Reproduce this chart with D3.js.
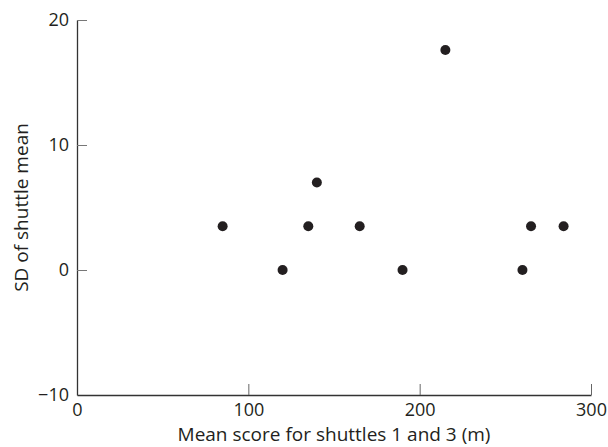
<!DOCTYPE html>
<html lang="en">
<head>
  <meta charset="UTF-8">
  <title>SD of shuttle mean</title>
  <style>
    body { margin: 0; background: #fff; }
    text { font-family: "Open Sans", sans-serif; fill: #231f20; }
  </style>
</head>
<body>
<div id="chart"></div>

<script src="https://cdn.jsdelivr.net/npm/d3@7"></script>
<script>
  // mean of shuttles 1 and 3 (m) vs SD of shuttle mean
  const MEAN_SCORE = [85, 120, 135, 140, 165, 190, 215, 260, 265, 284];
  const SD = [3.5, 0, 3.5, 7, 3.5, 0, 17.6, 0, 3.5, 3.5];
  const X_TICKS = [0, 100, 200, 300];
  const Y_TICKS = [-10, 0, 10, 20];

  const W = 608, H = 447;
  const margin = {top: 20, right: 17, bottom: 52, left: 77};
  const width = W - margin.left - margin.right,
    height = H - margin.top - margin.bottom;

  const svg = d3.select("#chart")
    .append("svg")
    .attr("width", W)
    .attr("height", H);

  const g = svg.append("g")
    .attr("transform", "translate(" + margin.left + "," + margin.top + ")");

  const x = d3.scaleLinear().domain([0, 300]).range([0, width]);
  const y = d3.scaleLinear().domain([-10, 20]).range([height, 0]);

  // x axis, ticks pointing up into the plot
  const xAxis = g.append("g")
    .attr("transform", "translate(0," + height + ")")
    .call(d3.axisBottom(x).tickValues(X_TICKS).tickSizeInner(-11).tickSizeOuter(0));
  xAxis.selectAll(".tick text").attr("y", 8).attr("dy", "0.71em").style("font-size", "18px");
  xAxis.selectAll(".tick line").attr("stroke", "#666");
  xAxis.select(".domain").attr("stroke", "#333").attr("stroke-width", 1.3);

  // y axis, ticks pointing right into the plot
  const yAxis = g.append("g")
    .call(d3.axisLeft(y).tickValues(Y_TICKS).tickSizeInner(-10).tickSizeOuter(0).tickFormat(d3.format("d")));
  yAxis.selectAll(".tick text").attr("x", -8).attr("dy", "0.3em").style("font-size", "18px");
  yAxis.selectAll(".tick line").attr("stroke", "#777");
  yAxis.select(".domain").attr("stroke", "#333").attr("stroke-width", 1.3);
  yAxis.selectAll(".tick").filter(d => d === -10).select("line").remove();

  g.selectAll(".tick text").attr("fill", "#231f20");

  // points
  g.selectAll("circle")
    .data(MEAN_SCORE)
    .enter()
    .append("circle")
    .attr("cx", d => x(d))
    .attr("cy", (d, i) => y(SD[i]))
    .attr("r", 5)
    .attr("fill", "#231f20");

  // axis titles
  svg.append("text")
    .attr("x", margin.left + width / 2)
    .attr("y", 441)
    .attr("text-anchor", "middle")
    .style("font-size", "19px")
    .text("Mean score for shuttles 1 and 3 (m)");

  svg.append("text")
    .attr("transform", "translate(28," + (margin.top + height / 2) + ")rotate(-90)")
    .attr("text-anchor", "middle")
    .style("font-size", "19px")
    .text("SD of shuttle mean");
</script>
</body>
</html>
